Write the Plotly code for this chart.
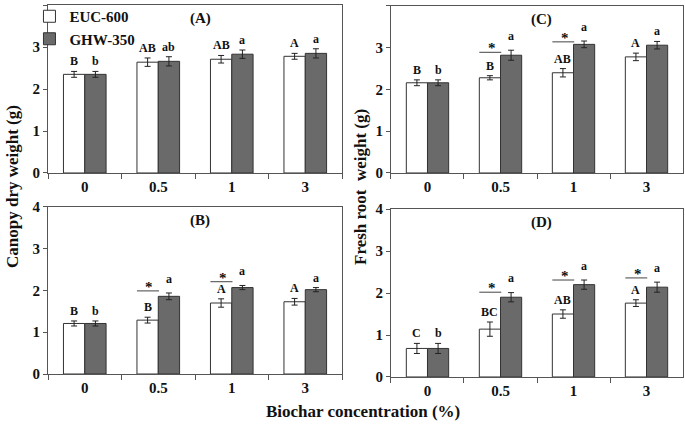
import plotly.graph_objects as go

# biochar concentration (%)
cats = ["0", "0.5", "1", "3"]

# (A) canopy dry weight, soil 1
a_euc = [2.35, 2.64, 2.71, 2.78]
a_euc_err = [0.07, 0.10, 0.09, 0.07]
a_ghw = [2.35, 2.66, 2.83, 2.85]
a_ghw_err = [0.07, 0.11, 0.10, 0.11]
a_euc_let = ["B", "AB", "AB", "A"]
a_ghw_let = ["b", "ab", "a", "a"]
a_star = [None, None, None, None]

# (B) canopy dry weight, soil 2
b_euc = [1.21, 1.29, 1.70, 1.73]
b_euc_err = [0.06, 0.07, 0.10, 0.08]
b_ghw = [1.21, 1.86, 2.07, 2.02]
b_ghw_err = [0.06, 0.08, 0.05, 0.05]
b_euc_let = ["B", "B", "A", "A"]
b_ghw_let = ["b", "a", "a", "a"]
b_star = [None, 1.99, 2.21, None]

# (C) fresh root weight, soil 1
c_euc = [2.16, 2.28, 2.40, 2.78]
c_euc_err = [0.07, 0.05, 0.10, 0.09]
c_ghw = [2.16, 2.82, 3.08, 3.06]
c_ghw_err = [0.07, 0.12, 0.08, 0.09]
c_euc_let = ["B", "B", "AB", "A"]
c_ghw_let = ["b", "a", "a", "a"]
c_star = [None, 2.89, 3.14, None]

# (D) fresh root weight, soil 2
d_euc = [0.68, 1.14, 1.50, 1.76]
d_euc_err = [0.12, 0.17, 0.10, 0.08]
d_ghw = [0.68, 1.90, 2.20, 2.14]
d_ghw_err = [0.12, 0.11, 0.11, 0.12]
d_euc_let = ["C", "BC", "AB", "A"]
d_ghw_let = ["b", "a", "a", "a"]
d_star = [None, 2.02, 2.31, 2.36]

SERIF = "Liberation Serif"
WHITE = "#ffffff"
GREY = "#6a6a6a"
EDGE = "#333333"
AXC = "#555555"

panels = [
    ("(A)", "", a_euc, a_euc_err, a_ghw, a_ghw_err, a_euc_let, a_ghw_let, a_star),
    ("(C)", "2", c_euc, c_euc_err, c_ghw, c_ghw_err, c_euc_let, c_ghw_let, c_star),
    ("(B)", "3", b_euc, b_euc_err, b_ghw, b_ghw_err, b_euc_let, b_ghw_let, b_star),
    ("(D)", "4", d_euc, d_euc_err, d_ghw, d_ghw_err, d_euc_let, d_ghw_let, d_star),
]

# plot-area domains in paper units (figure is 685 x 425)
xdom = {"": [0.0701, 0.4993], "2": [0.5708, 0.9971], "3": [0.0701, 0.4993], "4": [0.5708, 0.9971]}
ydom = {"": [0.593, 0.988], "2": [0.593, 0.986], "3": [0.12, 0.513], "4": [0.113, 0.508]}

fig = go.Figure()
annots = []
shapes = []
half = 0.145

for label, ax, euc, euc_err, ghw, ghw_err, euc_let, ghw_let, star in panels:
    xa = "x" + ax
    ya = "y" + ax
    first = ax == ""
    fig.add_trace(go.Bar(
        x=cats, y=euc, name="EUC-600", xaxis=xa, yaxis=ya,
        marker=dict(color=WHITE, line=dict(color=EDGE, width=1)),
        error_y=dict(type="data", array=euc_err, color="#222", thickness=1, width=3),
        showlegend=first, legendgroup="euc", offsetgroup="euc",
    ))
    fig.add_trace(go.Bar(
        x=cats, y=ghw, name="GHW-350", xaxis=xa, yaxis=ya,
        marker=dict(color=GREY, line=dict(color=EDGE, width=1)),
        error_y=dict(type="data", array=ghw_err, color="#222", thickness=1, width=3),
        showlegend=first, legendgroup="ghw", offsetgroup="ghw",
    ))

    for i in range(len(cats)):
        annots.append(dict(x=i - half, y=euc[i] + euc_err[i], xref=xa, yref=ya,
                           text=euc_let[i], showarrow=False, yanchor="bottom", yshift=1,
                           font=dict(family=SERIF, size=12, color="#111", weight="bold")))
        extra = 0.1 if star[i] is not None else 0.0
        annots.append(dict(x=i + half, y=ghw[i] + ghw_err[i] + extra, xref=xa, yref=ya,
                           text=ghw_let[i], showarrow=False, yanchor="bottom", yshift=1,
                           font=dict(family=SERIF, size=12, color="#111", weight="bold")))
        if star[i] is not None:
            shapes.append(dict(type="line", xref=xa, yref=ya, x0=i - 0.29, x1=i + 0.01,
                               y0=star[i], y1=star[i], line=dict(color="#444", width=1)))
            annots.append(dict(x=i - 0.12, y=star[i], xref=xa, yref=ya, text="*",
                               showarrow=False, yanchor="bottom", yshift=-6,
                               font=dict(family=SERIF, size=15, color="#111", weight="bold")))

    annots.append(dict(x=0.517, y=0.92, xref=xa + " domain", yref=ya + " domain", text=label,
                       xanchor="center", yanchor="middle", showarrow=False,
                       font=dict(family=SERIF, size=15, color="#111", weight="bold")))

    fig.layout["xaxis" + ax] = dict(
        domain=xdom[ax], anchor=ya, type="category", automargin=False,
        showline=True, mirror=True, linecolor=AXC, linewidth=1,
        ticks="outside", tickson="boundaries", ticklen=5, tickcolor=AXC,
        showgrid=False, zeroline=False,
        tickfont=dict(family=SERIF, size=15, color="#111", weight="bold"),
    )
    fig.layout["yaxis" + ax] = dict(
        domain=ydom[ax], anchor=xa, range=[0, 4], tickvals=[0, 1, 2, 3, 4], automargin=False,
        showline=True, mirror=True, linecolor=AXC, linewidth=1,
        ticks="outside", ticklen=4, tickcolor=AXC,
        showgrid=False, zeroline=False,
        tickfont=dict(family=SERIF, size=15, color="#111", weight="bold"),
    )

# axis titles
title_font = dict(family=SERIF, size=17, color="#111", weight="bold")
annots.append(dict(x=0.019, y=0.56, xref="paper", yref="paper", text="Canopy dry weight (g)",
                   textangle=-90, showarrow=False, xanchor="center", yanchor="middle",
                   font=title_font))
annots.append(dict(x=0.527, y=0.56, xref="paper", yref="paper", text="Fresh root  weight (g)",
                   textangle=-90, showarrow=False, xanchor="center", yanchor="middle",
                   font=title_font))
annots.append(dict(x=0.53, y=0.031, xref="paper", yref="paper", text="Biochar concentration (%)",
                   showarrow=False, xanchor="center", yanchor="middle",
                   font=title_font))

fig.update_layout(
    width=685, height=425,
    margin=dict(l=0, r=0, t=0, b=0),
    paper_bgcolor="white", plot_bgcolor="white",
    barmode="group", bargap=0.42, bargroupgap=0,
    font=dict(family=SERIF, size=14, color="#111", weight="bold"),
    legend=dict(x=0.043, y=1.0, xanchor="left", yanchor="top", bgcolor="rgba(0,0,0,0)",
                itemwidth=30, tracegroupgap=0,
                font=dict(family=SERIF, size=15, color="#111", weight="bold")),
    annotations=annots, shapes=shapes,
)

# page body has a default 8px margin; drop it so the figure sits at the window corner
fig.write_html("out.html", config={"displayModeBar": False},
               post_script="document.body.style.margin='0';")
